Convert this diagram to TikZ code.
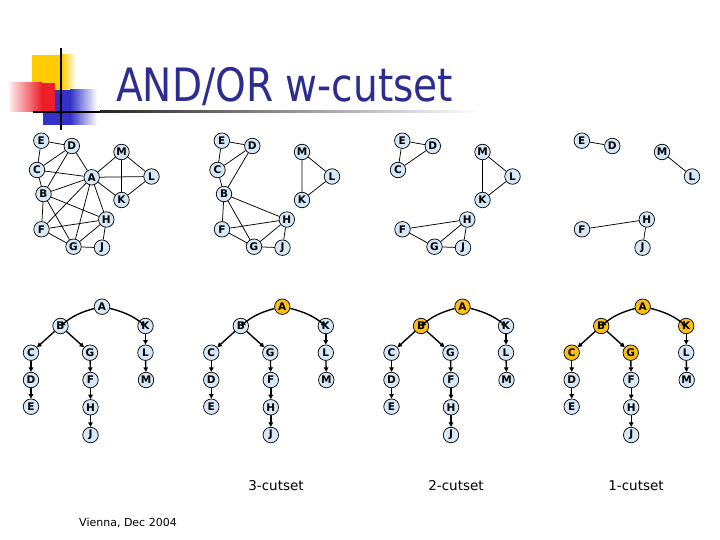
\documentclass[tikz,border=0pt]{standalone}
\usepackage{fontspec}
\setmainfont{DejaVu Sans}
\usetikzlibrary{arrows.meta}
\definecolor{nodeblue}{RGB}{212,232,248}
\definecolor{nodeorange}{RGB}{250,190,20}
\definecolor{titleblue}{RGB}{45,45,145}
\definecolor{logoyellow}{RGB}{255,204,0}
\definecolor{logored}{RGB}{238,30,40}
\definecolor{logoblue}{RGB}{50,50,200}
\pgfdeclarelayer{paper}
\pgfdeclarelayer{background}
\pgfsetlayers{paper,background,main}
\begin{document}
\begin{tikzpicture}[x=1pt,y=-1pt,
  vnode/.style={circle,draw=black,line width=0.7pt,fill=nodeblue,minimum size=15.5pt,inner sep=0pt,font=\fontsize{10.5}{10.5}\selectfont\bfseries},
  onode/.style={vnode,fill=nodeorange},
  gedge/.style={line width=0.75pt},
  tedge/.style={line width=1.4pt,-{Triangle[length=4.5pt,width=4.5pt]}},
  caplabel/.style={font=\fontsize{13.5}{14}\selectfont},
]
\useasboundingbox (0,0) rectangle (720,540);
\begin{pgfonlayer}{paper}
\fill[white] (0,0) rectangle (720,540);
\end{pgfonlayer}

% logo
\fill[logoyellow] (32,55) rectangle (62,98);
\shade[left color=logoyellow,right color=white] (62,55) rectangle (76,98);
\fill[logoblue] (43,90) rectangle (70,125);
\shade[left color=logoblue,right color=white] (70,90) rectangle (97,125);
\shade[left color=logored!10,right color=logored] (10,83) rectangle (42,112);
\fill[logored] (42,83) rectangle (55,112);
\fill[black] (33,110.8) rectangle (100,113);
\shade[left color=black!85,right color=white] (100,110.8) rectangle (480,113);
\fill[black] (60,48) rectangle (62.2,130);

% title
\node[anchor=base west,inner sep=0pt,text=titleblue,font=\fontsize{46}{46}\selectfont] (title) at (116,102) {\scalebox{0.85}[1]{AND/OR w-cutset}};

% ---------- graph 1 ----------
\begin{scope}[name prefix=g1-]
\node[vnode] (E) at (41.3,140.7) {E};
\node[vnode] (D) at (71.8,146) {D};
\node[vnode] (M) at (121.5,152) {M};
\node[vnode] (C) at (37,170) {C};
\node[vnode] (A) at (91.7,177.3) {A};
\node[vnode] (L) at (151.5,176.5) {L};
\node[vnode] (B) at (43.5,194) {B};
\node[vnode] (K) at (121.5,200) {K};
\node[vnode] (H) at (106.3,219.5) {H};
\node[vnode] (F) at (41.5,229.3) {F};
\node[vnode] (G) at (73.5,246.7) {G};
\node[vnode] (J) at (102,247.7) {J};
\begin{pgfonlayer}{background}
\draw[gedge] (E)--(C) (E)--(D) (C)--(D) (C)--(B) (D)--(B) (D)--(A) (C)--(A)
  (A)--(B) (A)--(F) (A)--(G) (A)--(H) (A)--(M) (A)--(L) (A)--(K)
  (M)--(K) (M)--(L) (K)--(L) (B)--(F) (B)--(G) (B)--(H)
  (F)--(H) (F)--(G) (G)--(H) (G)--(J) (H)--(J);
\end{pgfonlayer}
\end{scope}

% ---------- graph 2 ----------
\begin{scope}[xshift=180.5pt,name prefix=g2-]
\node[vnode] (E) at (41.3,140.7) {E};
\node[vnode] (D) at (71.8,146) {D};
\node[vnode] (M) at (121.5,152) {M};
\node[vnode] (C) at (37,170) {C};
\node[vnode] (L) at (151.5,176.5) {L};
\node[vnode] (B) at (43.5,194) {B};
\node[vnode] (K) at (121.5,200) {K};
\node[vnode] (H) at (106.3,219.5) {H};
\node[vnode] (F) at (41.5,229.3) {F};
\node[vnode] (G) at (73.5,246.7) {G};
\node[vnode] (J) at (102,247.7) {J};
\begin{pgfonlayer}{background}
\draw[gedge] (E)--(C) (E)--(D) (C)--(D) (C)--(B) (D)--(B)
  (M)--(K) (M)--(L) (K)--(L) (B)--(F) (B)--(G) (B)--(H)
  (F)--(H) (F)--(G) (G)--(H) (G)--(J) (H)--(J);
\end{pgfonlayer}
\end{scope}

% ---------- graph 3 ----------
\begin{scope}[xshift=361pt,name prefix=g3-]
\node[vnode] (E) at (41.3,140.7) {E};
\node[vnode] (D) at (71.8,146) {D};
\node[vnode] (M) at (121.5,152) {M};
\node[vnode] (C) at (37,170) {C};
\node[vnode] (L) at (151.5,176.5) {L};
\node[vnode] (K) at (121.5,200) {K};
\node[vnode] (H) at (106.3,219.5) {H};
\node[vnode] (F) at (41.5,229.3) {F};
\node[vnode] (G) at (73.5,246.7) {G};
\node[vnode] (J) at (102,247.7) {J};
\begin{pgfonlayer}{background}
\draw[gedge] (E)--(C) (E)--(D) (C)--(D)
  (M)--(K) (M)--(L) (K)--(L)
  (F)--(H) (F)--(G) (G)--(H) (G)--(J) (H)--(J);
\end{pgfonlayer}
\end{scope}

% ---------- graph 4 ----------
\begin{scope}[xshift=540.5pt,name prefix=g4-]
\node[vnode] (E) at (41.3,140.7) {E};
\node[vnode] (D) at (71.8,146) {D};
\node[vnode] (M) at (121.5,152) {M};
\node[vnode] (L) at (151.5,176.5) {L};
\node[vnode] (H) at (106.3,219.5) {H};
\node[vnode] (F) at (41.5,229.3) {F};
\node[vnode] (J) at (102,247.7) {J};
\begin{pgfonlayer}{background}
\draw[gedge] (E)--(D) (M)--(L) (F)--(H) (H)--(J);
\end{pgfonlayer}
\end{scope}

% ---------- trees ----------
\foreach \i/\dx/\oa/\ob/\oc/\og/\ok in
  {1/0/vnode/vnode/vnode/vnode/vnode,
   2/180.3/onode/vnode/vnode/vnode/vnode,
   3/360.5/onode/onode/vnode/vnode/vnode,
   4/540.7/onode/onode/onode/onode/onode}{
\begin{scope}[xshift=\dx pt,name prefix=t\i-]
\node[\oa] (A) at (102,306.7) {A};
\node[\ob] (B) at (60.5,326) {B};
\node[\ok] (K) at (145.5,326) {K};
\node[\oc] (C) at (31,352.7) {C};
\node[\og] (G) at (90,352.7) {G};
\node[vnode] (L) at (145.5,352.7) {L};
\node[vnode] (D) at (31,380) {D};
\node[vnode] (F) at (90.5,380) {F};
\node[vnode] (M) at (146,380) {M};
\node[vnode] (E) at (31,406.7) {E};
\node[vnode] (H) at (90.5,407.3) {H};
\node[vnode] (J) at (90.5,435) {J};
\draw[tedge] (A) to[bend right=12] (B);
\draw[tedge] (A) to[bend left=12] (K);
\draw[tedge] (B)--(C);
\draw[tedge] (B)--(G);
\draw[tedge] (C)--(D);
\draw[tedge] (D)--(E);
\draw[tedge] (G)--(F);
\draw[tedge] (F)--(H);
\draw[tedge] (H)--(J);
\draw[tedge] (K)--(L);
\draw[tedge] (L)--(M);
\end{scope}}

% captions
\node[caplabel] (c3) at (276,486) {3-cutset};
\node[caplabel] (c2) at (456,486) {2-cutset};
\node[caplabel] (c1) at (636,486) {1-cutset};
\node[font=\fontsize{11}{12}\selectfont] (vienna) at (128,523) {Vienna, Dec 2004};
\end{tikzpicture}
\end{document}
